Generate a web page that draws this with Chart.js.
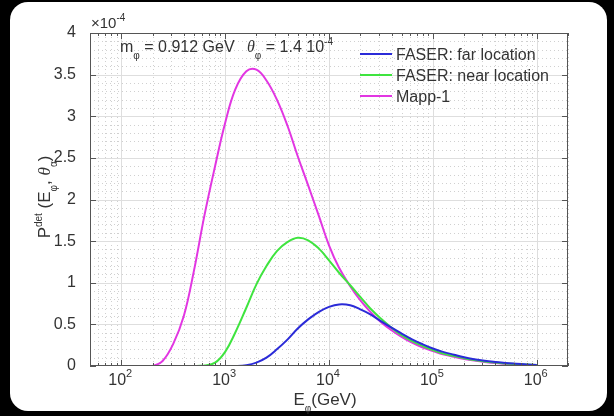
<!DOCTYPE html>
<html>
<head>
<meta charset="utf-8">
<script src="https://cdn.jsdelivr.net/npm/chart.js@4.4.1/dist/chart.umd.min.js"></script>
<style>
  html, body { margin: 0; padding: 0; background: #000; }
  #wrap { width: 614px; height: 416px; }
</style>
</head>
<body>
<div id="wrap"><canvas id="chart"></canvas></div>
<script>
// energies in GeV, probabilities in units of 1e-4
const energies = [50, 63, 80, 100, 125, 160, 200, 250, 315, 400, 500, 630, 800,
  1000, 1250, 1600, 2000, 2500, 3150, 4000, 5000, 6300, 8000,
  10000, 12500, 16000, 20000, 25000, 31500, 40000, 50000, 63000, 80000,
  100000, 125000, 160000, 200000, 250000, 315000, 400000, 500000, 630000, 800000, 1000000];
const farLocation = [0, 0, 0, 0, 0, 0, 0, 0, 0, 0, 0, 0, 0,
  0, 0, 0.01, 0.04, 0.10, 0.20, 0.32, 0.45, 0.56, 0.65,
  0.71, 0.74, 0.73, 0.68, 0.62, 0.54, 0.46, 0.39, 0.32, 0.26,
  0.21, 0.17, 0.135, 0.105, 0.082, 0.063, 0.048, 0.036, 0.027, 0.019, 0.013];
const nearLocation = [0, 0, 0, 0, 0, 0, 0, 0, 0, 0, 0, 0.005, 0.04,
  0.17, 0.40, 0.70, 0.98, 1.20, 1.38, 1.49, 1.54, 1.51, 1.41,
  1.27, 1.12, 0.97, 0.83, 0.69, 0.57, 0.46, 0.37, 0.30, 0.24,
  0.19, 0.15, 0.12, 0.093, 0.072, 0.055, 0.042, 0.031, 0.023, 0.017, 0.012];
const mapp1 = [0, 0, 0, 0, 0, 0, 0, 0.06, 0.26, 0.60, 1.14, 1.80, 2.40,
  2.92, 3.32, 3.54, 3.56, 3.43, 3.20, 2.88, 2.52, 2.17, 1.80,
  1.45, 1.18, 0.96, 0.79, 0.65, 0.53, 0.43, 0.35, 0.28, 0.22,
  0.18, 0.14, 0.11, 0.085, 0.065, 0.048, 0.035, 0.025, 0.018, 0.012, 0.008];

const seriesNames = ['FASER: far location', 'FASER: near location', 'Mapp-1'];
const seriesColors = ['#2b2bd8', '#3fe43f', '#e236e2'];

const xTickValues = [1e2, 1e3, 1e4, 1e5, 1e6];
const xTickExps = ['2', '3', '4', '5', '6'];
const yTickValues = [0, 0.5, 1, 1.5, 2, 2.5, 3, 3.5, 4];
const yTickLabels = ['0', '0.5', '1', '1.5', '2', '2.5', '3', '3.5', '4'];

const FONT = '"Liberation Sans", Arial, sans-serif';
const TXT = '#333';

function drawParts(ctx, parts, x, y) {
  let cx = x;
  parts.forEach(p => {
    ctx.font = p.f;
    ctx.fillText(p.t, cx, y + (p.dy || 0));
    cx += ctx.measureText(p.t).width;
  });
  return cx;
}
function partsWidth(ctx, parts) {
  let w = 0;
  parts.forEach(p => { ctx.font = p.f; w += ctx.measureText(p.t).width; });
  return w;
}

const big = '16px ' + FONT;
const mid = '16px ' + FONT;
const small = '10px ' + FONT;
const theta = 'italic 16px "Liberation Serif", serif';

const framePlugin = {
  id: 'frame',
  beforeDraw(chart) {
    const ctx = chart.ctx;
    ctx.save();
    ctx.fillStyle = '#fff';
    ctx.beginPath();
    ctx.roundRect(10, 2, 597, 409, 18);
    ctx.fill();
    ctx.restore();
  },
  beforeDatasetsDraw(chart) {
    const { ctx, chartArea: a, scales: { x, y } } = chart;
    ctx.save();
    ctx.lineWidth = 1;
    // minor dotted grid
    ctx.strokeStyle = '#d0d0d0';
    ctx.setLineDash([1, 3]);
    for (let d = 1; d <= 6; d++) {
      for (let k = 2; k <= 9; k++) {
        const v = k * Math.pow(10, d);
        if (v < x.min || v > x.max) continue;
        const px = Math.round(x.getPixelForValue(v)) + 0.5;
        ctx.beginPath(); ctx.moveTo(px, a.top); ctx.lineTo(px, a.bottom); ctx.stroke();
      }
    }
    for (let i = 1; i < 40; i++) {
      if (i % 5 === 0) continue;
      const py = Math.round(y.getPixelForValue(i / 10)) + 0.5;
      ctx.beginPath(); ctx.moveTo(a.left, py); ctx.lineTo(a.right, py); ctx.stroke();
    }
    // major grid
    ctx.setLineDash([]);
    ctx.strokeStyle = '#dedede';
    xTickValues.forEach(v => {
      const px = Math.round(x.getPixelForValue(v)) + 0.5;
      ctx.beginPath(); ctx.moveTo(px, a.top); ctx.lineTo(px, a.bottom); ctx.stroke();
    });
    yTickValues.slice(1, -1).forEach(v => {
      const py = Math.round(y.getPixelForValue(v)) + 0.5;
      ctx.beginPath(); ctx.moveTo(a.left, py); ctx.lineTo(a.right, py); ctx.stroke();
    });
    ctx.restore();
  },
  afterDatasetsDraw(chart) {
    const { ctx, chartArea: a, scales: { x, y } } = chart;
    ctx.save();
    ctx.strokeStyle = '#555';
    ctx.lineWidth = 1;
    ctx.strokeRect(a.left + 0.5, a.top + 0.5, a.right - a.left - 1, a.bottom - a.top - 1);
    // inward ticks
    ctx.beginPath();
    for (let d = 1; d <= 6; d++) {
      for (let k = 1; k <= 9; k++) {
        const v = k * Math.pow(10, d);
        if (v < x.min || v > x.max) continue;
        const len = k === 1 ? 6 : 3;
        const px = Math.round(x.getPixelForValue(v)) + 0.5;
        ctx.moveTo(px, a.bottom); ctx.lineTo(px, a.bottom - len);
        ctx.moveTo(px, a.top); ctx.lineTo(px, a.top + len);
      }
    }
    yTickValues.forEach(v => {
      const py = Math.round(y.getPixelForValue(v)) + 0.5;
      ctx.moveTo(a.left, py); ctx.lineTo(a.left + 6, py);
      ctx.moveTo(a.right, py); ctx.lineTo(a.right - 6, py);
    });
    ctx.stroke();
    ctx.restore();
  },
  afterDraw(chart) {
    const { ctx, chartArea: a, scales: { x } } = chart;
    ctx.save();
    ctx.fillStyle = TXT;
    ctx.textBaseline = 'alphabetic';

    // x tick labels 10^n
    xTickValues.forEach((v, i) => {
      const parts = [{ t: '10', f: mid }, { t: xTickExps[i], f: '11px ' + FONT, dy: -8 }];
      const w = partsWidth(ctx, parts);
      drawParts(ctx, parts, x.getPixelForValue(v) - w / 2 - 1, 385);
    });

    // exponent label
    drawParts(ctx, [{ t: '×10', f: '15px ' + FONT }, { t: '-4', f: '10px ' + FONT, dy: -7 }], 91, 28);

    // annotation
    drawParts(ctx, [{ t: 'm', f: big }, { t: 'φ', f: small, dy: 7 }, { t: ' = 0.912 GeV', f: big }], 120, 52);
    drawParts(ctx, [{ t: 'θ', f: theta }, { t: 'φ', f: small, dy: 7 }, { t: ' = 1.4 10', f: big }, { t: '-4', f: small, dy: -7 }], 247, 52);

    // legend
    const rows = [54, 75, 96];
    seriesNames.forEach((name, i) => {
      ctx.strokeStyle = seriesColors[i];
      ctx.lineWidth = 2;
      ctx.beginPath(); ctx.moveTo(360, rows[i]); ctx.lineTo(392, rows[i]); ctx.stroke();
      ctx.font = mid;
      ctx.fillText(name, 396, rows[i] + 6);
    });

    // x title
    const xt = [{ t: 'E', f: '17px ' + FONT }, { t: 'φ', f: small, dy: 7 }, { t: '(GeV)', f: '17px ' + FONT }];
    drawParts(ctx, xt, (a.left + a.right) / 2 - partsWidth(ctx, xt) / 2 - 4, 405);

    // y title
    const yt = [{ t: 'P', f: '17px ' + FONT }, { t: 'det', f: small, dy: -8 }, { t: ' (E', f: '17px ' + FONT }, { t: 'φ', f: small, dy: 7 },
      { t: ', ', f: '17px ' + FONT }, { t: 'θ', f: 'italic 17px "Liberation Serif", serif' }, { t: 'α', f: small, dy: 7 }, { t: ')', f: '17px ' + FONT }];
    ctx.translate(50, 197);
    ctx.rotate(-Math.PI / 2);
    drawParts(ctx, yt, -partsWidth(ctx, yt) / 2, 0);
    ctx.restore();
  }
};

const seriesValues = [farLocation, nearLocation, mapp1];

new Chart(document.getElementById('chart'), {
  type: 'line',
  data: {
    datasets: seriesValues.map((vals, i) => ({
      label: seriesNames[i],
      data: energies.map((e, j) => ({ x: e, y: vals[j] })),
      borderColor: seriesColors[i],
      borderWidth: 2,
      pointRadius: 0,
      tension: 0.4,
      fill: false
    }))
  },
  options: {
    responsive: true,
    maintainAspectRatio: false,
    animation: false,
    layout: { padding: { top: 33, right: 46, left: 0, bottom: 0 } },
    plugins: { legend: { display: false }, tooltip: { enabled: false } },
    scales: {
      x: {
        type: 'logarithmic',
        min: 50,
        max: 2e6,
        afterBuildTicks: s => { s.ticks = xTickValues.map(v => ({ value: v })); },
        afterFit: s => { s.height = 50; },
        grid: { display: false },
        border: { display: false },
        ticks: { display: false }
      },
      y: {
        min: 0,
        max: 4,
        afterBuildTicks: s => { s.ticks = yTickValues.map(v => ({ value: v })); },
        afterFit: s => { s.width = 90; },
        grid: { display: false },
        border: { display: false },
        ticks: {
          padding: 6,
          color: TXT,
          font: { size: 16, family: FONT },
          callback: (v, i) => yTickLabels[i]
        }
      }
    }
  },
  plugins: [framePlugin]
});
</script>
</body>
</html>
